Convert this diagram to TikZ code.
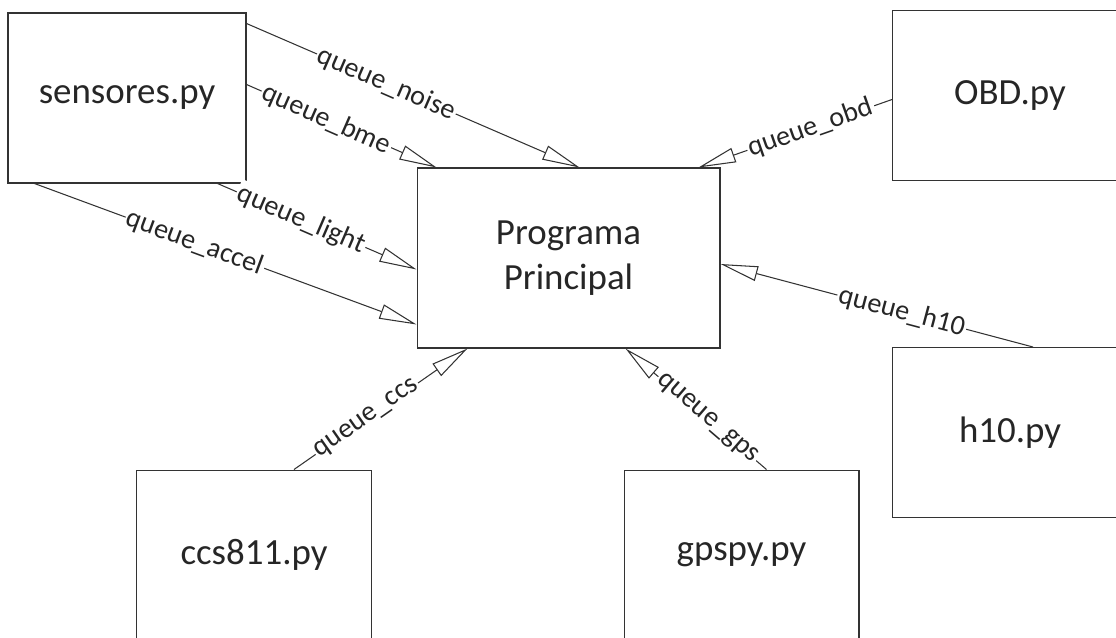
\documentclass[tikz,border=0pt]{standalone}
\usepackage{fontspec}
\setmainfont{Carlito}
\usetikzlibrary{arrows.meta, calc}

\begin{document}
\begin{tikzpicture}[x=0.02cm, y=-0.02cm, line width=0.6pt,
	pybox/.style={draw=black!80, text=black!85, minimum width=4.7cm, minimum height=3.4cm, font=\fontsize{21}{26}\selectfont},
	queue/.style={draw=black!80, -{Triangle[open, length=0.75cm, width=0.3cm]}},
	qlabel/.style={pos=0.42, sloped, fill=white, text=black!85, inner sep=1pt, font=\fontsize{16}{19}\selectfont}]
\clip (0,0) rectangle (1116,637);
\node[pybox, minimum width=4.76cm] (S) at (127,98) {sensores.py};
\node[pybox] (OBD) at (1010,95.5) {OBD.py};
\node[pybox] (H10) at (1010,432.5) {h10.py};
\node[pybox] (CCS) at (254,555) {ccs811.py};
\node[pybox] (GPS) at (741.5,555) {gpspy.py};
\node[pybox, minimum width=6.06cm, minimum height=3.6cm, align=center] (P) at (568.5,258) {Programa\\Principal};
% queues into the main program
\draw[queue] ($(S.north east)+(0,11)$) -- node[qlabel] {queue\_noise} ($(P.north west)+(163,0)$);
\draw[queue] ($(S.north east)+(0,72)$) -- node[qlabel] {queue\_bme} ($(P.north west)+(20,0)$);
\draw[queue] ($(S.south east)+(-29,0)$) -- node[qlabel] {queue\_light} ($(P.north west)+(0,102)$);
\draw[queue] ($(S.south west)+(27,0)$) -- node[qlabel] {queue\_accel} ($(P.north west)+(0,157)$);
\draw[queue] ($(OBD.west)+(0,4)$) -- node[qlabel] {queue\_obd} ($(P.north east)+(-22,0)$);
\draw[queue] ($(H10.north west)+(141,0)$) -- node[qlabel] {queue\_h10} ($(P.east)+(0,6)$);
\draw[queue] ($(CCS.north west)+(158,0)$) -- node[qlabel] {queue\_ccs} ($(P.south west)+(51,0)$);
\draw[queue] ($(GPS.north west)+(143,0)$) -- node[qlabel] {queue\_gps} ($(P.south west)+(209,0)$);
\end{tikzpicture}
\end{document}
